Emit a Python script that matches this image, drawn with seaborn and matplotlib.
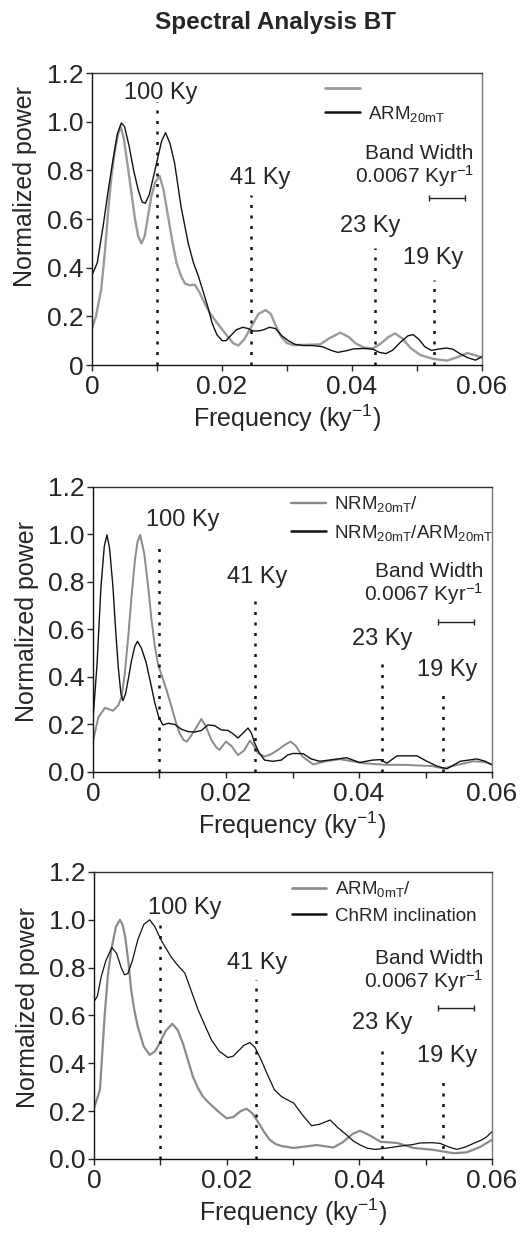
import numpy as np
import pandas as pd
import matplotlib.pyplot as plt
import seaborn as sns
from matplotlib.ticker import MultipleLocator, FuncFormatter
from matplotlib.lines import Line2D

sns.set_style("ticks")
plt.rcParams['font.family'] = ['Liberation Sans', 'DejaVu Sans']
plt.rcParams['mathtext.fontset'] = 'custom'
plt.rcParams['mathtext.rm'] = 'Liberation Sans'
plt.rcParams['mathtext.it'] = 'Liberation Sans'

# ---------------- data ----------------
# panel 1
p1_black_f = [0.0000, 0.0008, 0.0017, 0.0025, 0.0032, 0.0039, 0.0045, 0.0050, 0.0057, 0.0064,
              0.0071, 0.0077, 0.0082, 0.0088, 0.0095, 0.0101, 0.0107, 0.0113, 0.0120, 0.0127,
              0.0137, 0.0148, 0.0156, 0.0163, 0.0170, 0.0178, 0.0185, 0.0192, 0.0200, 0.0206,
              0.0213, 0.0222, 0.0232, 0.0240, 0.0248, 0.0256, 0.0264, 0.0273, 0.0282, 0.0292,
              0.0302, 0.0312, 0.0325, 0.0340, 0.0355, 0.0368, 0.0378, 0.0390, 0.0402, 0.0418,
              0.0432, 0.0442, 0.0452, 0.0462, 0.0475, 0.0486, 0.0494, 0.0503, 0.0512, 0.0522,
              0.0532, 0.0545, 0.0555, 0.0567, 0.0578, 0.0590, 0.0600]
p1_black_v = [0.37, 0.42, 0.57, 0.72, 0.84, 0.95, 0.995, 0.98, 0.90, 0.80,
              0.72, 0.67, 0.665, 0.70, 0.78, 0.85, 0.92, 0.955, 0.91, 0.83,
              0.65, 0.50, 0.42, 0.37, 0.31, 0.24, 0.17, 0.125, 0.10, 0.10,
              0.12, 0.145, 0.155, 0.15, 0.14, 0.14, 0.145, 0.155, 0.15, 0.12,
              0.10, 0.085, 0.08, 0.08, 0.075, 0.06, 0.052, 0.058, 0.066, 0.068,
              0.065, 0.052, 0.047, 0.06, 0.095, 0.12, 0.125, 0.105, 0.075, 0.06,
              0.065, 0.07, 0.065, 0.045, 0.03, 0.02, 0.035]
p1_gray_f = [0.0000, 0.0006, 0.0014, 0.0020, 0.0025, 0.0030, 0.0035, 0.0040, 0.0044, 0.0049,
             0.0055, 0.0061, 0.0066, 0.0071, 0.0076, 0.0081, 0.0086, 0.0091, 0.0097, 0.0104,
             0.0110, 0.0117, 0.0124, 0.0130, 0.0137, 0.0143, 0.0150, 0.0158, 0.0165, 0.0173,
             0.0181, 0.0189, 0.0199, 0.0209, 0.0217, 0.0225, 0.0234, 0.0245, 0.0256, 0.0267,
             0.0275, 0.0283, 0.0291, 0.0300, 0.0310, 0.0330, 0.0351, 0.0365, 0.0382, 0.0395,
             0.0405, 0.0418, 0.0432, 0.0445, 0.0456, 0.0466, 0.0477, 0.0490, 0.0505, 0.0525,
             0.0546, 0.0562, 0.0577, 0.0590, 0.0600]
p1_gray_v = [0.15, 0.20, 0.31, 0.47, 0.64, 0.78, 0.88, 0.95, 0.98, 0.93,
             0.815, 0.70, 0.60, 0.53, 0.50, 0.53, 0.61, 0.69, 0.75, 0.777,
             0.72, 0.61, 0.50, 0.42, 0.365, 0.335, 0.328, 0.33, 0.30, 0.255,
             0.215, 0.185, 0.15, 0.116, 0.09, 0.08, 0.105, 0.157, 0.21, 0.226,
             0.21, 0.16, 0.116, 0.09, 0.082, 0.083, 0.085, 0.11, 0.133, 0.115,
             0.09, 0.072, 0.068, 0.09, 0.115, 0.13, 0.11, 0.07, 0.041, 0.025,
             0.018, 0.032, 0.049, 0.04, 0.03]

# panel 2
p2_black_f = [0.0000, 0.0006, 0.0012, 0.0017, 0.0021, 0.0025, 0.0030, 0.0034, 0.0038, 0.0042,
              0.0045, 0.0049, 0.0053, 0.0058, 0.0063, 0.0067, 0.0073, 0.0080, 0.0087, 0.0093,
              0.0099, 0.0105, 0.0113, 0.0123, 0.0133, 0.0143, 0.0153, 0.0163, 0.0173, 0.0183,
              0.0193, 0.0203, 0.0211, 0.0218, 0.0226, 0.0233, 0.0238, 0.0243, 0.0250, 0.0258,
              0.0270, 0.0283, 0.0293, 0.0301, 0.0316, 0.0328, 0.0341, 0.0360, 0.0381, 0.0401,
              0.0420, 0.0432, 0.0442, 0.0457, 0.0487, 0.0502, 0.0517, 0.0532, 0.0552, 0.0577,
              0.0590, 0.0600]
p2_black_v = [0.22, 0.45, 0.78, 0.95, 0.998, 0.94, 0.78, 0.60, 0.44, 0.33,
              0.30, 0.33, 0.39, 0.47, 0.53, 0.55, 0.52, 0.46, 0.37, 0.29,
              0.23, 0.198, 0.205, 0.20, 0.18, 0.17, 0.168, 0.175, 0.198, 0.195,
              0.177, 0.175, 0.16, 0.143, 0.165, 0.185, 0.165, 0.122, 0.08, 0.05,
              0.045, 0.05, 0.072, 0.078, 0.077, 0.055, 0.045, 0.052, 0.06, 0.04,
              0.05, 0.052, 0.037, 0.068, 0.068, 0.045, 0.025, 0.013, 0.045, 0.055,
              0.045, 0.03]
p2_gray_f = [0.0000, 0.0008, 0.0018, 0.0030, 0.0038, 0.0043, 0.0048, 0.0053, 0.0058, 0.0063,
             0.0067, 0.0071, 0.0077, 0.0083, 0.0088, 0.0093, 0.0098, 0.0103, 0.0110, 0.0118,
             0.0124, 0.0130, 0.0136, 0.0141, 0.0147, 0.0153, 0.0163, 0.0170, 0.0178, 0.0185,
             0.0190, 0.0200, 0.0208, 0.0218, 0.0227, 0.0236, 0.0242, 0.0248, 0.0258, 0.0268,
             0.0278, 0.0289, 0.0297, 0.0305, 0.0315, 0.0331, 0.0350, 0.0371, 0.0390, 0.0406,
             0.0441, 0.0470, 0.0491, 0.0510, 0.0526, 0.0545, 0.0572, 0.0588, 0.0600]
p2_gray_v = [0.13, 0.23, 0.27, 0.258, 0.28, 0.316, 0.42, 0.57, 0.74, 0.89,
             0.97, 0.998, 0.92, 0.78, 0.64, 0.53, 0.45, 0.41, 0.35, 0.275,
             0.215, 0.164, 0.135, 0.128, 0.15, 0.177, 0.223, 0.19, 0.135, 0.105,
             0.093, 0.128, 0.11, 0.071, 0.09, 0.132, 0.11, 0.08, 0.065, 0.075,
             0.093, 0.115, 0.128, 0.11, 0.065, 0.032, 0.045, 0.054, 0.045, 0.037,
             0.03, 0.03, 0.027, 0.025, 0.015, 0.028, 0.045, 0.042, 0.032]

# panel 3
p3_black_f = [0.0000, 0.0005, 0.0011, 0.0018, 0.0027, 0.0034, 0.0041, 0.0046, 0.0051, 0.0058,
              0.0066, 0.0075, 0.0084, 0.0092, 0.0101, 0.0116, 0.0126, 0.0137, 0.0147, 0.0157,
              0.0167, 0.0177, 0.0189, 0.0202, 0.0210, 0.0217, 0.0226, 0.0235, 0.0243, 0.0252,
              0.0262, 0.0272, 0.0283, 0.0293, 0.0301, 0.0314, 0.0328, 0.0340, 0.0356, 0.0368,
              0.0381, 0.0391, 0.0401, 0.0412, 0.0424, 0.0440, 0.0462, 0.0480, 0.0492, 0.0510,
              0.0522, 0.0535, 0.0547, 0.0560, 0.0572, 0.0585, 0.0592, 0.0600]
p3_black_v = [0.658, 0.68, 0.763, 0.83, 0.884, 0.86, 0.80, 0.77, 0.775, 0.83,
              0.916, 0.98, 1.0, 0.97, 0.916, 0.846, 0.81, 0.777, 0.70, 0.623,
              0.56, 0.498, 0.45, 0.424, 0.43, 0.45, 0.475, 0.487, 0.465, 0.414,
              0.35, 0.289, 0.26, 0.245, 0.234, 0.185, 0.139, 0.145, 0.163, 0.13,
              0.10, 0.075, 0.059, 0.045, 0.04, 0.045, 0.054, 0.06, 0.067, 0.068,
              0.065, 0.05, 0.04, 0.05, 0.065, 0.08, 0.093, 0.114]
p3_gray_f = [0.0000, 0.0009, 0.0016, 0.0021, 0.0026, 0.0033, 0.0039, 0.0043, 0.0047, 0.0052,
             0.0056, 0.0061, 0.0066, 0.0075, 0.0084, 0.0092, 0.0099, 0.0108, 0.0118, 0.0126,
             0.0134, 0.0142, 0.0149, 0.0157, 0.0164, 0.0173, 0.0182, 0.0191, 0.0200, 0.0210,
             0.0221, 0.0230, 0.0239, 0.0247, 0.0256, 0.0265, 0.0274, 0.0283, 0.0301, 0.0318,
             0.0336, 0.0361, 0.0375, 0.0390, 0.0401, 0.0415, 0.0432, 0.0457, 0.0482, 0.0512,
             0.0542, 0.0562, 0.0582, 0.0600]
p3_gray_v = [0.212, 0.289, 0.596, 0.77, 0.874, 0.97, 1.0, 0.98, 0.93, 0.82,
             0.707, 0.62, 0.554, 0.47, 0.435, 0.45, 0.484, 0.535, 0.565, 0.54,
             0.484, 0.41, 0.345, 0.295, 0.262, 0.235, 0.212, 0.19, 0.17, 0.175,
             0.20, 0.21, 0.19, 0.156, 0.115, 0.08, 0.062, 0.054, 0.046, 0.052,
             0.058, 0.048, 0.07, 0.105, 0.118, 0.10, 0.072, 0.067, 0.046, 0.038,
             0.024, 0.028, 0.05, 0.08]

# orbital periods (ky) marked with dotted lines
periods = [100, 41, 23, 19]
period_labels = ['100 Ky', '41 Ky', '23 Ky', '19 Ky']
# per panel: top of dotted line, label centre x and y
line_tops = [[1.08, 0.70, 0.48, 0.35], [0.96, 0.75, 0.46, 0.345], [0.99, 0.75, 0.46, 0.34]]
label_xs = [[0.0105, 0.0258, 0.0428, 0.0525], [0.0135, 0.0247, 0.0435, 0.0532],
            [0.0137, 0.0246, 0.0434, 0.0532]]
label_ys = [[1.12, 0.77, 0.57, 0.44], [1.06, 0.82, 0.56, 0.43], [1.05, 0.82, 0.57, 0.43]]

legend_labels = [
    ['', r'ARM$_{\mathregular{20mT}}$'],
    [r'NRM$_{\mathregular{20mT}}$/', r'NRM$_{\mathregular{20mT}}$/ARM$_{\mathregular{20mT}}$'],
    [r'ARM$_{\mathregular{0mT}}$/', 'ChRM inclination'],
]

panels = [
    (p1_gray_f, p1_gray_v, p1_black_f, p1_black_v),
    (p2_gray_f, p2_gray_v, p2_black_f, p2_black_v),
    (p3_gray_f, p3_gray_v, p3_black_f, p3_black_v),
]

# axes boxes in figure fraction [left, bottom, width, height]
boxes = [
    [0.176, 0.7042, 0.7457, 0.2366],
    [0.1778, 0.3744, 0.763, 0.2310],
    [0.1797, 0.0608, 0.761, 0.2326],
]
gray_cols = ['#9a9a9a', '#8a8a8a', '#8a8a8a']
gray_lw = [1.7, 1.4, 1.6]
black_lw = [1.0, 1.0, 0.9]
legend_pos = [(0.597, 0.97), (0.497, 0.975), (0.497, 0.975)]
legend_gap = [0.25, 0.45, 0.45]
ylabel_pos = [(-0.141, 0.613), (-0.136, 0.528), (-0.136, 0.528)]
bw_y = [(0.87, 0.775, 0.686), (0.845, 0.75, 0.633), (0.84, 0.745, 0.63)]

fig = plt.figure(figsize=(5.23, 12.34), dpi=100)
fig.text(0.526, 1 - 22 / 1234, 'Spectral Analysis BT', ha='center', va='center',
         fontsize=17.5, fontweight='bold')

for i, (gf, gv, bf, bv) in enumerate(panels):
    ax = fig.add_axes(boxes[i])
    dg = pd.DataFrame({'f': gf, 'p': gv})
    db = pd.DataFrame({'f': bf, 'p': bv})
    sns.lineplot(data=dg, x='f', y='p', ax=ax, color=gray_cols[i], lw=gray_lw[i], estimator=None)
    sns.lineplot(data=db, x='f', y='p', ax=ax, color='#111111', lw=black_lw[i], estimator=None)

    # dotted period markers
    for per, lab, top, lx, ly in zip(periods, period_labels, line_tops[i], label_xs[i], label_ys[i]):
        fr = 1.0 / per
        ax.plot([fr, fr], [0, top], color='#111111', lw=1.8, linestyle=(0, (1.2, 3.0)))
        ax.text(lx, ly, lab, ha='center', va='center', fontsize=17)

    # bandwidth marker
    t1, t2, yb = bw_y[i]
    ax.text(0.0587, t1, 'Band Width', ha='right', va='center', fontsize=15)
    ax.text(0.0587, t2, r'0.0067 Kyr$^{\mathregular{-1}}$', ha='right', va='center', fontsize=15)
    ax.errorbar(0.0546, yb, xerr=0.00275, color='#222222', lw=1, capsize=2.5, capthick=1)

    handles = [Line2D([], [], color=gray_cols[i], lw=gray_lw[i] + 0.3),
               Line2D([], [], color='#111111', lw=1.8)]
    ax.legend(handles, legend_labels[i], loc='upper left', bbox_to_anchor=legend_pos[i],
              frameon=False, fontsize=13.5, handlelength=1.85, handletextpad=0.45,
              labelspacing=legend_gap[i], borderpad=0, borderaxespad=0)

    ax.set_xlim(0, 0.06)
    ax.set_ylim(0, 1.2)
    ax.xaxis.set_major_locator(MultipleLocator(0.02))
    ax.xaxis.set_minor_locator(MultipleLocator(0.01))
    ax.yaxis.set_major_locator(MultipleLocator(0.2))
    ax.xaxis.set_major_formatter(FuncFormatter(lambda x, _: '0' if abs(x) < 1e-9 else f'{x:.2f}'))
    if i == 0:
        ax.yaxis.set_major_formatter(FuncFormatter(lambda y, _: '0' if abs(y) < 1e-9 else f'{y:.1f}'))
    else:
        ax.yaxis.set_major_formatter(FuncFormatter(lambda y, _: f'{y:.1f}'))
    ax.tick_params(axis='both', which='both', direction='out', length=4, width=1, labelsize=19)
    ax.tick_params(axis='y', pad=2)
    ax.set_xlabel(r'Frequency (ky$^{\mathregular{-1}}$)', fontsize=18, labelpad=2)
    ax.set_ylabel('Normalized power', fontsize=18)
    ax.yaxis.set_label_coords(*ylabel_pos[i])

    for s in ['left', 'bottom']:
        ax.spines[s].set_color('#111111')
        ax.spines[s].set_linewidth(1)
    ax.spines['top'].set_color('#333333')
    ax.spines['right'].set_color('#777777')
    ax.spines['top'].set_linewidth(1)
    ax.spines['right'].set_linewidth(1)

plt.savefig('out.png', dpi=100)
